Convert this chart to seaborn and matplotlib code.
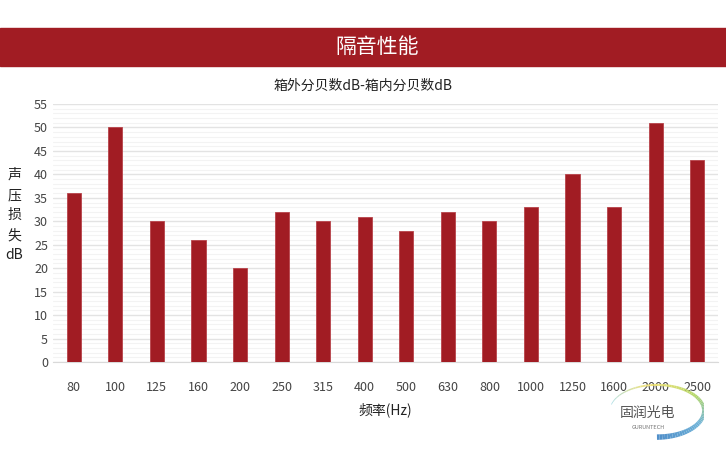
import matplotlib
matplotlib.use('Agg')
import matplotlib.pyplot as plt
import numpy as np
import pandas as pd
import seaborn as sns
from matplotlib.collections import LineCollection
from matplotlib.ticker import MultipleLocator

freqs = ['80', '100', '125', '160', '200', '250', '315', '400', '500', '630',
         '800', '1000', '1250', '1600', '2000', '2500']
loss_db = [36, 50, 30, 26, 20, 32, 30, 31, 28, 32, 30, 33, 40, 33, 51, 43]

banner_title = '隔音性能'
chart_title = '箱外分贝数dB-箱内分贝数dB'
x_label = '频率(Hz)'
y_label = '声\n压\n损\n失\ndB'

red = '#A11C23'

sns.set_style('white')
plt.rcParams['font.family'] = ['Noto Sans CJK SC', 'DejaVu Sans']

df = pd.DataFrame({'freq': freqs, 'loss': loss_db})

fig = plt.figure(figsize=(7.26, 4.5), dpi=100)

# red banner across the top
fig.patches.append(plt.Rectangle((0, 1 - 66 / 450), 1, 38 / 450, transform=fig.transFigure,
                                 color=red, zorder=0))
fig.text(0.52, 1 - 47 / 450, banner_title, color='white', fontsize=15,
         ha='center', va='center')
fig.text(0.5, 1 - 86 / 450, chart_title, color='#222222', fontsize=10,
         ha='center', va='center')

ax = fig.add_axes([53 / 726, 1 - 362 / 450, 665 / 726, 258 / 450])
sns.barplot(data=df, x='freq', y='loss', color=red, width=0.34, saturation=1,
            edgecolor='#B8434A', linewidth=0.6, ax=ax, zorder=3)

ax.set_ylim(0, 55)
ax.yaxis.set_major_locator(MultipleLocator(5))
ax.yaxis.set_minor_locator(MultipleLocator(1))
ax.grid(axis='y', which='major', color='#E3E3E3', linewidth=1, zorder=0)
ax.grid(axis='y', which='minor', color='#F3F3F3', linewidth=0.8, zorder=0)
ax.set_axisbelow(True)
for s in ['top', 'right', 'left']:
    ax.spines[s].set_visible(False)
ax.spines['bottom'].set_color('#D9D9D9')
ax.tick_params(axis='both', which='both', length=0, labelsize=9, colors='#444444')
ax.tick_params(axis='x', pad=14)
ax.set_xlabel(x_label, fontsize=10, color='#222222', labelpad=6)
ax.set_ylabel('')
fig.text(14 / 726, 1 - 215 / 450, y_label, fontsize=10, color='#222222',
         ha='center', va='center', linespacing=1.55)

# logo
lax = fig.add_axes([592 / 726, 1 - 440 / 450, 112 / 726, 58 / 450])
lax.set_xlim(0, 1)
lax.set_ylim(0, 1)
lax.axis('off')
t = np.linspace(0, 1, 80)
ang = np.pi * (0.92 - 1.42 * t)
xs = 0.58 + 0.42 * np.cos(ang)
ys = 0.5 + 0.45 * np.sin(ang)
pts = np.array([xs, ys]).T.reshape(-1, 1, 2)
segs = np.concatenate([pts[:-1], pts[1:]], axis=1)
cmap = matplotlib.colors.LinearSegmentedColormap.from_list(
    'logo', ['#A8DDE8', '#F3E27A', '#B5D86A', '#6FB3D8', '#4F8EC9'])
lc = LineCollection(segs, colors=cmap(t), linewidths=np.linspace(0.5, 4, 80))
lax.add_collection(lc)
lax.text(0.5, 0.47, '固润光电', fontsize=10, color='#555555', ha='center', va='center')
lax.text(0.5, 0.22, 'GURUNTECH', fontsize=4, color='#777777', ha='center', va='center')

fig.savefig('out.png', dpi=100)
